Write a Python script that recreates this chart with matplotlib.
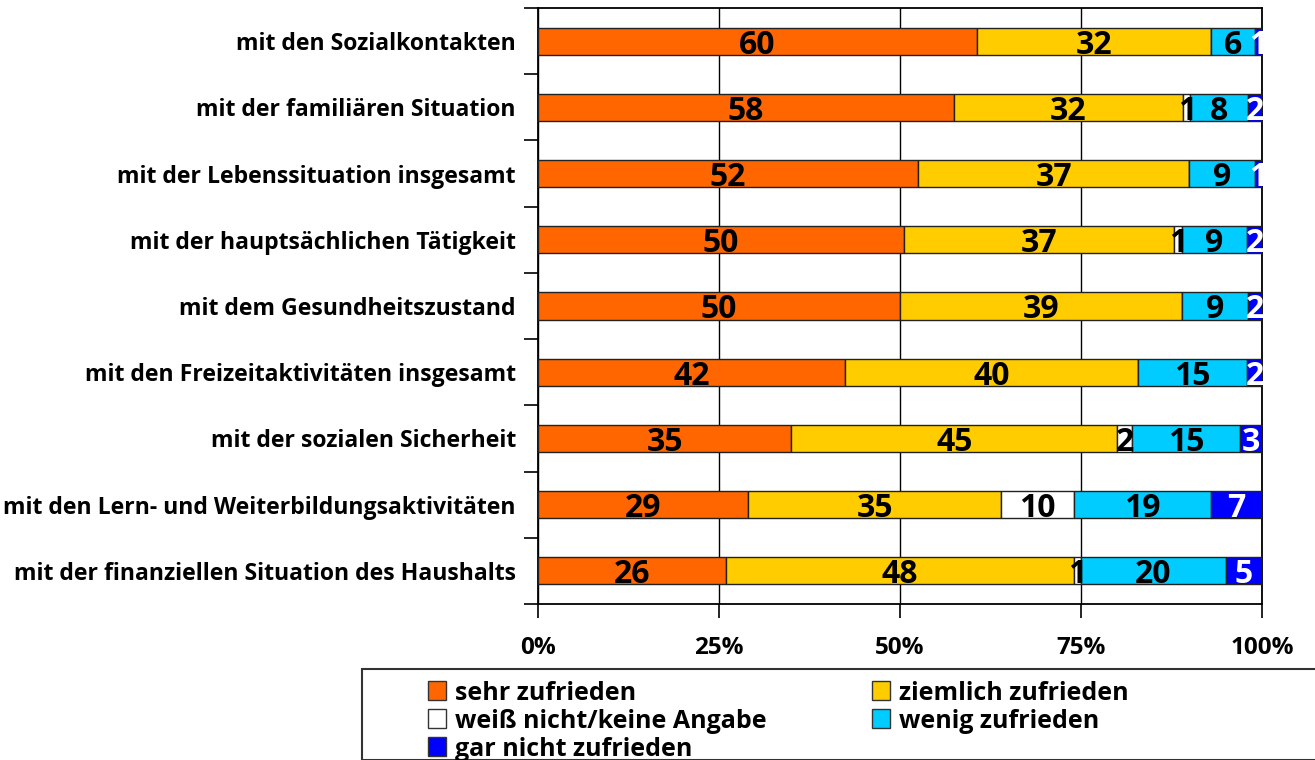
import numpy as np
import matplotlib.pyplot as plt
from matplotlib.patches import Patch, Rectangle

categories = [
    "mit den Sozialkontakten",
    "mit der familiären Situation",
    "mit der Lebenssituation insgesamt",
    "mit der hauptsächlichen Tätigkeit",
    "mit dem Gesundheitszustand",
    "mit den Freizeitaktivitäten insgesamt",
    "mit der sozialen Sicherheit",
    "mit den Lern- und Weiterbildungsaktivitäten",
    "mit der finanziellen Situation des Haushalts",
]
sehr = [60, 58, 52, 50, 50, 42, 35, 29, 26]
ziemlich = [32, 32, 37, 37, 39, 40, 45, 35, 48]
weiss_nicht = [0, 1, 0, 1, 0, 0, 2, 10, 1]
wenig = [6, 8, 9, 9, 9, 15, 15, 19, 20]
gar_nicht = [1, 2, 1, 2, 2, 2, 3, 7, 5]

series_names = ["sehr zufrieden", "ziemlich zufrieden", "weiß nicht/keine Angabe",
                "wenig zufrieden", "gar nicht zufrieden"]
colors = ["#FF6600", "#FFCC00", "#FFFFFF", "#00CCFF", "#0000FF"]
text_colors = ["black", "black", "black", "black", "white"]

plt.rcParams["font.family"] = ["Open Sans", "DejaVu Sans"]
plt.rcParams["font.weight"] = "bold"

data = np.array([sehr, ziemlich, weiss_nicht, wenig, gar_nicht], dtype=float)
shares = data / data.sum(axis=0) * 100

fig = plt.figure(figsize=(13.15, 7.6), dpi=100)
ax = fig.add_axes([538 / 1315, 1 - 604 / 760, 724 / 1315, 596 / 760])

y = np.arange(len(categories))
left = np.zeros(len(categories))
for i in range(len(series_names)):
    ax.barh(y, shares[i], left=left, height=0.41, color=colors[i],
            edgecolor="#222222", linewidth=1.0, zorder=3)
    for j in range(len(categories)):
        if data[i, j] > 0:
            ax.text(left[j] + shares[i, j] / 2, y[j], f"{int(data[i, j])}",
                    ha="center", va="center_baseline", fontsize=23,
                    fontweight="bold", color=text_colors[i], zorder=4)
    left += shares[i]

ax.set_xlim(0, 100)
ax.set_ylim(len(categories) - 0.5, -0.5)
ax.set_xticks([0, 25, 50, 75, 100])
ax.set_xticklabels(["0%", "25%", "50%", "75%", "100%"], fontsize=17.5, fontweight="bold")
ax.tick_params(axis="x", length=10, width=1.2, pad=13, color="black")
ax.set_yticks(y)
ax.set_yticklabels(categories, fontsize=16.6, fontweight="bold")
ax.tick_params(axis="y", which="major", length=0, pad=16)
ax.set_yticks(np.arange(-0.5, len(categories)), minor=True)
ax.tick_params(axis="y", which="minor", length=10, width=1.2)
ax.grid(axis="x", color="black", linewidth=1.0, zorder=0)
for s in ax.spines.values():
    s.set_linewidth(1.3)

# legend box
fig.patches.append(Rectangle((362 / 1315, 0), 1, (760 - 669) / 760, transform=fig.transFigure,
                             facecolor="white", edgecolor="#333333", linewidth=1.5))
handles = [Patch(facecolor=c, edgecolor="#333333") for c in colors]
order = [0, 2, 4, 1, 3]
fig.legend([handles[k] for k in order], [series_names[k] for k in order],
           ncol=2, loc="upper left", bbox_to_anchor=(416 / 1315, 1 - 668 / 760),
           frameon=False, fontsize=18, handlelength=0.72, handleheight=0.8,
           handletextpad=0.35, labelspacing=0.12, columnspacing=4.2,
           borderpad=0)

plt.savefig("out.png", dpi=100)
